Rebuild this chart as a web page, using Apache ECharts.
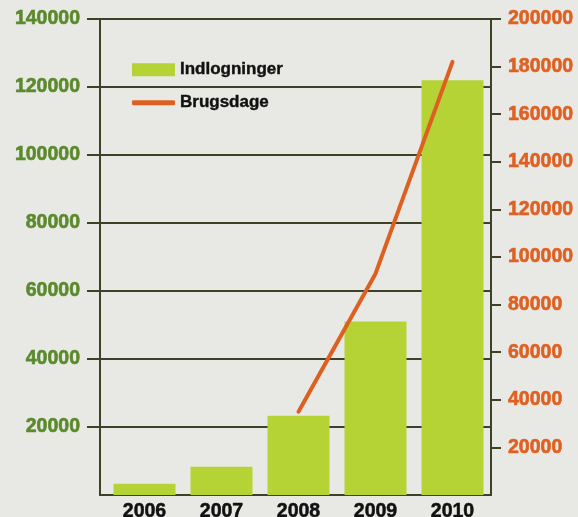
<!DOCTYPE html>
<html><head><meta charset="utf-8">
<script src="https://cdn.jsdelivr.net/npm/echarts@6/dist/echarts.min.js"></script>
<style>html,body{margin:0;padding:0;background:#e8e9e5;}#c{width:578px;height:517px;}</style>
</head><body><div id="c"></div>
<script>
var years = ['2006','2007','2008','2009','2010'];
var indlogninger = [3300, 8300, 23300, 51000, 122000];
var brugsdage = ['-', '-', 35000, 93000, 182000];
var leftTicks = {min: 0, max: 140000, interval: 20000};
var rightTicks = {min: 0, max: 200000, interval: 20000};

var FONT = 'Liberation Sans';
var axisColor = '#3d4226';
function plain(v){ return String(v); }
function lbl(color, margin){
  return {showMinLabel: false, formatter: plain, fontFamily: FONT, fontWeight: 'bold', fontSize: 19.5,
    color: color, margin: margin, textBorderColor: color, textBorderWidth: 0.6};
}
var legendText = {fontFamily: FONT, fontWeight: 'bold', fontSize: 17, color: '#111', textBorderColor: '#111', textBorderWidth: 0.4};
var chart = echarts.init(document.getElementById('c'));
chart.setOption({
  backgroundColor: '#e8e9e5',
  animation: false,
  grid: [
    {left: 100, right: 87, top: 19, bottom: 22, containLabel: false, outerBoundsMode: 'none'},
    {left: 106, right: 87, top: 19, bottom: 22, containLabel: false, outerBoundsMode: 'none'}
  ],
  legend: [{
    orient: 'vertical', left: 127, top: 56, itemWidth: 43, itemHeight: 13,
    textStyle: legendText, data: [{name: 'Indlogninger', icon: 'rect'}]
  }, {
    orient: 'vertical', left: 127, top: 89, itemWidth: 43, itemHeight: 5,
    textStyle: legendText, data: [{name: 'Brugsdage', icon: 'roundRect', itemStyle: {color: '#dd6020'}}]
  }],
  xAxis: [{
    gridIndex: 0, type: 'category', data: years,
    axisLine: {show: true, lineStyle: {color: axisColor, width: 2}},
    axisTick: {show: false}, axisLabel: {show: false}
  }, {
    gridIndex: 1, type: 'category', data: years,
    axisLine: {show: false}, axisTick: {show: false},
    axisLabel: {fontFamily: FONT, fontWeight: 'bold', fontSize: 19.5, color: '#111', margin: 7, textBorderColor: '#111', textBorderWidth: 0.5}
  }],
  yAxis: [{
    gridIndex: 0, type: 'value', min: leftTicks.min, max: leftTicks.max, interval: leftTicks.interval, position: 'left',
    axisLine: {show: true, lineStyle: {color: axisColor, width: 2}},
    axisTick: {show: true, length: 13, lineStyle: {color: axisColor, width: 2}},
    splitLine: {show: true, lineStyle: {color: axisColor, width: 2}},
    axisLabel: lbl('#5b8a2c', 20)
  }, {
    gridIndex: 0, type: 'value', min: rightTicks.min, max: rightTicks.max, interval: rightTicks.interval, position: 'right',
    axisLine: {show: true, lineStyle: {color: axisColor, width: 2}},
    axisTick: {show: true, length: 10, lineStyle: {color: axisColor, width: 2}},
    splitLine: {show: false},
    axisLabel: lbl('#df6020', 17)
  }, {
    gridIndex: 1, type: 'value', min: leftTicks.min, max: leftTicks.max, show: false, splitLine: {show: false}
  }, {
    gridIndex: 1, type: 'value', min: rightTicks.min, max: rightTicks.max, show: false, splitLine: {show: false}
  }],
  series: [{
    name: 'Indlogninger', type: 'bar', xAxisIndex: 1, yAxisIndex: 2, data: indlogninger,
    barWidth: 62, itemStyle: {color: '#b5d334'}
  }, {
    name: 'Brugsdage', type: 'line', xAxisIndex: 1, yAxisIndex: 3, data: brugsdage,
    symbol: 'none', itemStyle: {color: '#dd6020'},
    lineStyle: {color: '#dd6020', width: 4, cap: 'round'}
  }]
});
</script></body></html>
